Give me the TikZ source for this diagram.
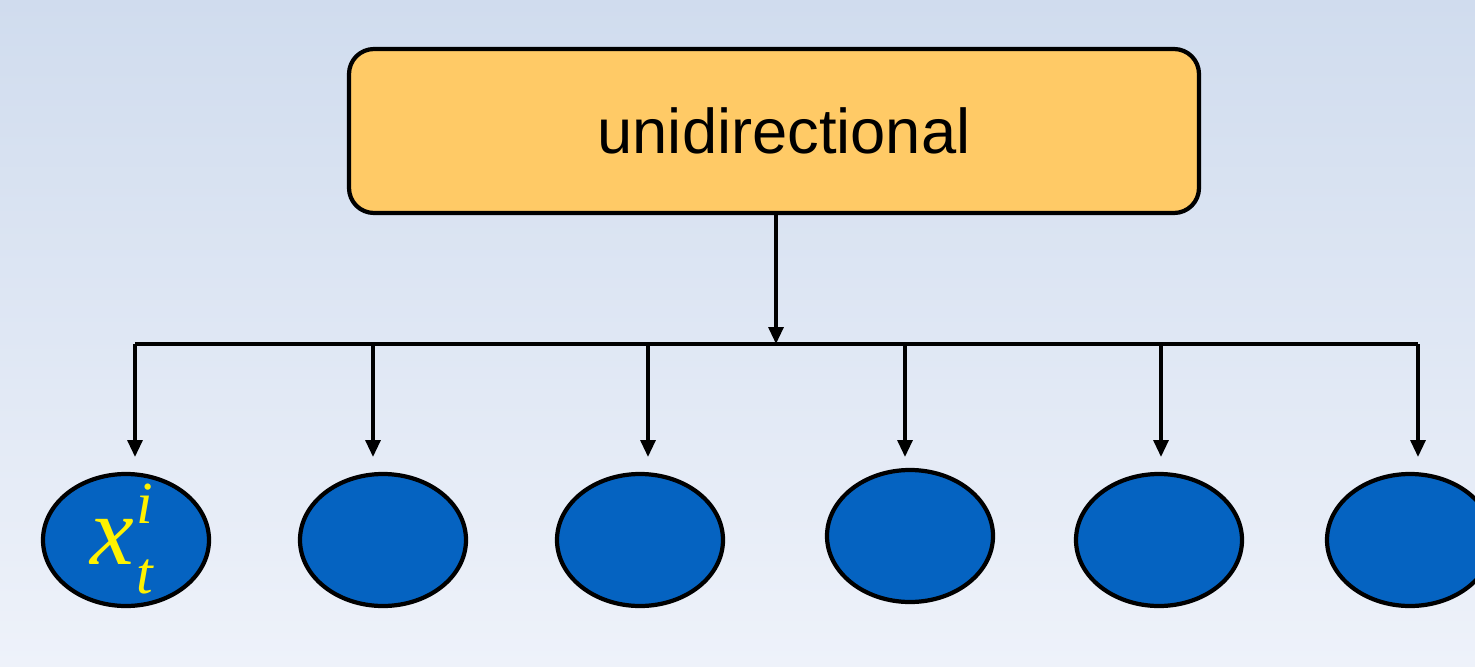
\documentclass[tikz,border=0pt]{standalone}
\usepackage{fontspec}
\setmainfont{Liberation Sans}
\newfontfamily\timesfont{Liberation Serif}
\usetikzlibrary{arrows.meta,shapes.geometric}
\definecolor{bgtop}{RGB}{208,220,238}
\definecolor{bgbot}{RGB}{238,242,250}
\definecolor{boxfill}{RGB}{255,202,102}
\definecolor{unitfill}{RGB}{5,99,193}

\begin{document}
\begin{tikzpicture}[
  arr/.style={line width=1pt,-{Triangle[width=4.2pt,length=4.8pt]}},
  unit/.style={ellipse,draw,line width=1.2pt,fill=unitfill,minimum width=1.66cm,minimum height=1.32cm,inner sep=0pt}]
\useasboundingbox (0,0) rectangle (14.75,6.66);
\shade[top color=bgtop,bottom color=bgbot] (0,0) rectangle (14.75,6.66);
\node (dir) at (7.74,5.35) [draw,line width=1.2pt,fill=boxfill,rounded corners=0.25cm,minimum width=8.5cm,minimum height=1.64cm,font=\fontsize{18}{20}\selectfont]{\hspace*{0.2cm}\raisebox{-0.06cm}{unidirectional}};
\coordinate (bus) at (7.76,3.22);
\draw[arr] (dir.south -| bus) -- (bus);
\draw[line width=1pt] (1.35,3.22) coordinate (busL) -- (14.18,3.22) coordinate (busR);
% the six units
\node (u1) at (1.26,1.26) [unit]{};
\node (u2) at (3.83,1.26) [unit]{};
\node (u3) at (6.40,1.26) [unit]{};
\node (u4) at (9.10,1.30) [unit]{};
\node (u5) at (11.59,1.26) [unit]{};
\node (u6) at (14.10,1.26) [unit]{};
\node at (1.22,1.27) [yellow,font=\timesfont\itshape]{\fontsize{28}{28}\selectfont x\kern0.02em\raisebox{0.42em}{\makebox[0pt][l]{\fontsize{17}{17}\selectfont i}}\raisebox{-0.3em}{\fontsize{17}{17}\selectfont t}};
\foreach \x [count=\i] in {1.35,3.73,6.48,9.05,11.61,14.18} {
  \coordinate (top\i) at (\x,3.22);
  \coordinate (tip\i) at (\x,2.09);
  \draw[arr] (top\i) -- (tip\i);
}
\end{tikzpicture}
\end{document}
